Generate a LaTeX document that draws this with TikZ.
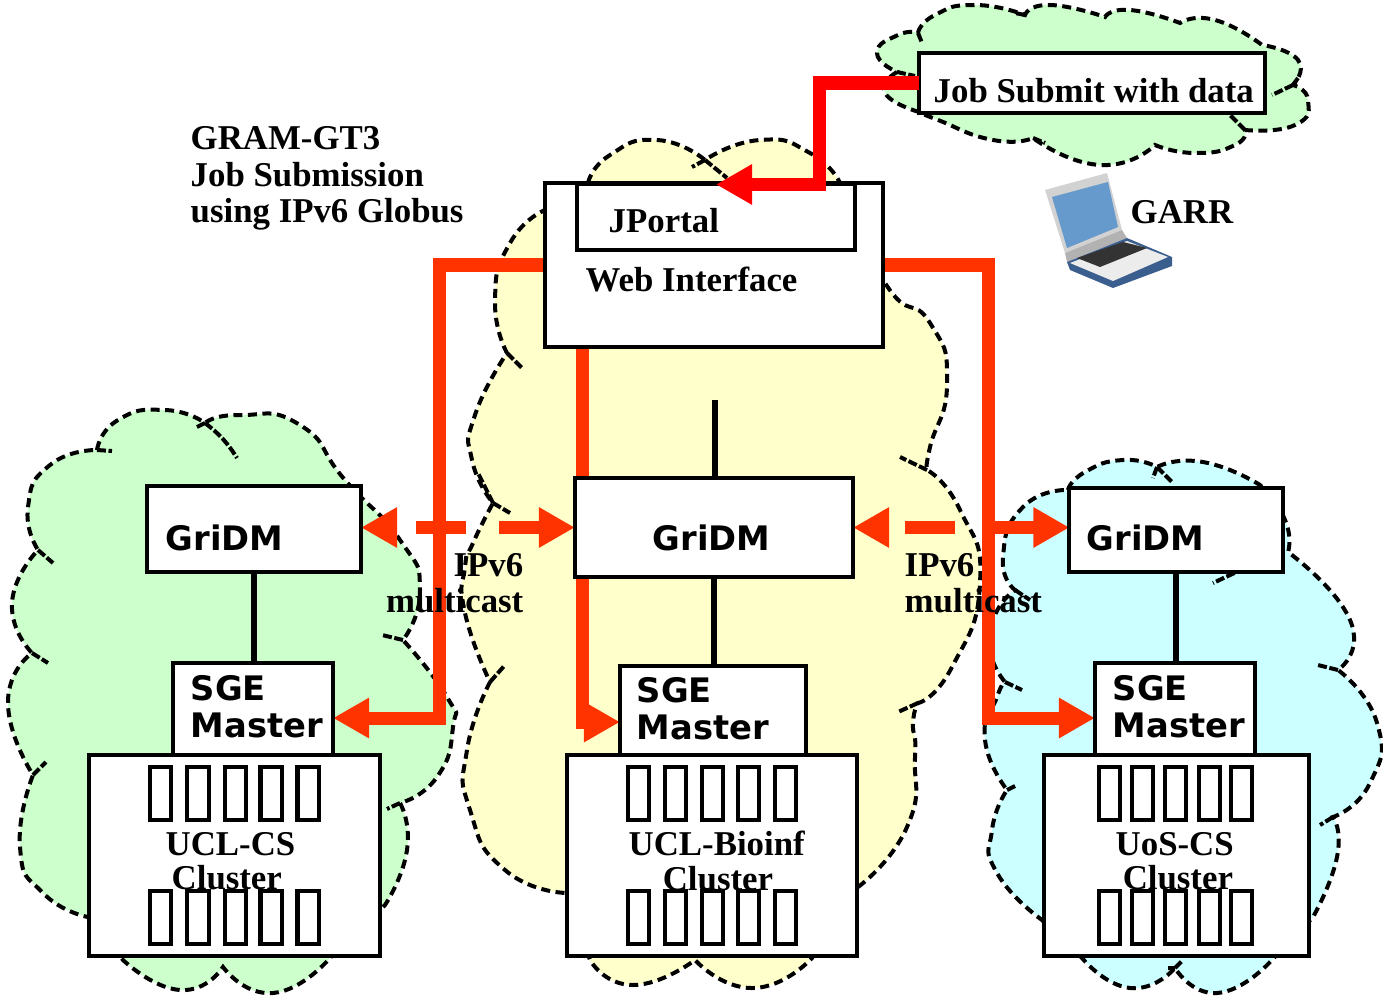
\documentclass[tikz,border=0pt]{standalone}
\usepackage{fontspec}
\setmainfont{Liberation Serif}
\setsansfont{DejaVu Sans}
\usepackage{tikz}
\usetikzlibrary{arrows.meta}
\pgfdeclarelayer{clouds}
\pgfdeclarelayer{links}
\pgfsetlayers{clouds,links,main}
\definecolor{cloudgreen}{HTML}{CCFFCC}
\definecolor{cloudyellow}{HTML}{FFFFCC}
\definecolor{cloudblue}{HTML}{CCFFFF}
\definecolor{linkorange}{HTML}{FF3300}
\definecolor{screenblue}{HTML}{6699CC}
\definecolor{laptopedge}{HTML}{3A5F8F}

\begin{document}
\begin{tikzpicture}[x=.01cm,y=-.01cm,>={Triangle[length=.36cm,width=.38cm]},
                    line join=miter]
  \tikzstyle{box}=[draw,fill=white,line width=.04cm,inner sep=0,outer sep=0]
  \tikzstyle{cell}=[draw,line width=.04cm,inner sep=0,minimum width=.21cm,minimum height=.53cm]
  \tikzstyle{cloudline}=[draw=black,line width=.04cm,dash pattern=on .09cm off .055cm]
  \tikzstyle{tail}=[black,line width=.04cm,dash pattern=on .09cm off .025cm]
  \tikzstyle{lobe}=[smooth,tension=1]
  \tikzstyle{link}=[->,linkorange,line width=.13cm]
  \tikzstyle{stem}=[black,line width=.06cm]
  \tikzstyle{serif}=[inner sep=0,font=\fontsize{9.9}{10.3}\selectfont\bfseries,align=left]
  \tikzstyle{plain}=[inner sep=0,font=\fontsize{9.9}{9.8}\selectfont\bfseries,align=left]
  \tikzstyle{sans}=[inner sep=0,font=\fontsize{9.6}{10.6}\selectfont\sffamily\bfseries,align=left]

  \useasboundingbox (0,0) rectangle (1383,997);

  % clouds
  \begin{pgfonlayer}{clouds}
  \path[cloudline,fill=cloudyellow] plot[lobe] coordinates {(588,183) (610,155) (657,140) (705,160)}
    -- plot[lobe] coordinates {(705,160) (760,140) (810,153) (840,183)}
    -- plot[lobe] coordinates {(840,183) (885,283) (930,323) (947,383) (930,447) (927,470)}
    -- plot[lobe] coordinates {(927,470) (960,510) (980,583) (952,667) (918,703)}
    -- plot[lobe] coordinates {(918,703) (913,723) (915,757) (907,827) (858,887)}
    -- (812,958) -- plot[lobe] coordinates {(812,958) (753,988) (695,960)}
    -- plot[lobe] coordinates {(695,960) (633,985) (590,960)}
    -- (567,893) -- plot[lobe] coordinates {(567,893) (505,870) (470,810) (467,750) (490,682)}
    -- plot[lobe] coordinates {(490,682) (465,613) (465,567) (473,543) (493,503)}
    -- plot[lobe] coordinates {(493,503) (472,460) (475,415) (507,353)}
    -- plot[lobe] coordinates {(507,353) (495,300) (510,243) (545,210)}
    -- cycle;
  \path[cloudline,fill=cloudgreen] plot[lobe] coordinates {(97,450) (118,420) (165,410) (205,423)}
    -- plot[lobe] coordinates {(205,423) (240,415) (300,425) (345,480) (400,540) (420,590) (403,640)}
    -- plot[lobe] coordinates {(403,640) (447,697) (453,727) (437,777) (400,803)}
    -- plot[lobe] coordinates {(400,803) (407,850) (385,905)}
    -- (330,958) -- plot[lobe] coordinates {(330,958) (273,993) (223,967)}
    -- plot[lobe] coordinates {(223,967) (180,990) (123,960)}
    -- (88,917) -- plot[lobe] coordinates {(88,917) (43,893) (20,847) (33,775)}
    -- plot[lobe] coordinates {(33,775) (8,703) (32,653)}
    -- plot[lobe] coordinates {(32,653) (12,603) (38,550)}
    -- plot[lobe] coordinates {(38,550) (28,507) (50,465) (97,450)}
    -- cycle;
  \path[cloudline,fill=cloudblue] plot[lobe] coordinates {(1068,490) (1085,472) (1123,460) (1157,467)}
    -- plot[lobe] coordinates {(1157,467) (1203,462) (1260,485)}
    -- plot[lobe] coordinates {(1260,485) (1285,520) (1288,552)}
    -- plot[lobe] coordinates {(1288,552) (1350,620) (1338,670)}
    -- plot[lobe] coordinates {(1338,670) (1377,723) (1370,783) (1333,817)}
    -- plot[lobe] coordinates {(1333,817) (1337,857) (1313,917)}
    -- (1270,962) -- plot[lobe] coordinates {(1270,962) (1217,993) (1175,968)}
    -- plot[lobe] coordinates {(1175,968) (1130,988) (1082,958)}
    -- (1042,920) -- plot[lobe] coordinates {(1042,920) (997,873) (992,830) (1007,790)}
    -- plot[lobe] coordinates {(1007,790) (985,740) (997,697) (1005,682)}
    -- plot[lobe] coordinates {(1005,682) (990,650) (995,615) (1015,590)}
    -- plot[lobe] coordinates {(1015,590) (1003,557) (1023,507) (1068,490)}
    -- cycle;
  \path[cloudline,fill=cloudgreen] plot[lobe] coordinates {(918,33) (935,15) (975,5) (1025,15)}
    -- plot[lobe] coordinates {(1025,15) (1050,5) (1105,17)}
    -- plot[lobe] coordinates {(1105,17) (1130,10) (1180,23)}
    -- plot[lobe] coordinates {(1180,23) (1215,20) (1262,45)}
    -- plot[lobe] coordinates {(1262,45) (1298,60) (1293,85)}
    -- plot[lobe] coordinates {(1293,85) (1308,100) (1295,125) (1245,130)}
    -- plot[lobe] coordinates {(1245,130) (1235,145) (1195,153) (1155,145)}
    -- plot[lobe] coordinates {(1155,145) (1100,165) (1033,138)}
    -- plot[lobe] coordinates {(1033,138) (993,140) (938,120) (919,112)}
    -- plot[lobe] coordinates {(919,112) (885,93) (897,72)}
    -- plot[lobe] coordinates {(897,72) (877,53) (898,35) (918,33)}
    -- cycle;
  % cloud tails
  \draw[tail] (205,423) to[bend left=10] (237,458) (205,423) -- (195,428)
    (97,450) -- (112,451) (38,550) -- (53,563) (32,653) -- (48,663) (33,775) -- (46,762)
    (403,640) -- (382,635) (400,803) -- (387,809)
    (705,160) -- (727,178) (705,160) -- (692,167) (507,353) -- (522,368)
    (493,503) -- (478,473) (493,503) -- (510,513) (490,682) -- (505,665)
    (918,703) -- (898,712) (927,470) -- (900,457)
    (1157,467) -- (1173,483) (1157,467) -- (1153,478) (1338,670) -- (1318,665)
    (1333,817) -- (1320,825) (1175,968) -- (1183,960) (1175,968) -- (1168,968)
    (1007,790) -- (1017,785) (1005,682) -- (1022,690) (1015,590) -- (1030,600)
    (1245,568) -- (1213,583)
    (918,33) -- (922,43) (897,72) -- (915,76) (1293,85) -- (1272,95) (1293,85) -- (1298,78)
    (1245,130) -- (1228,113) (1033,138) -- (1045,143) (1025,15) -- (1015,13);
  \end{pgfonlayer}

  % boxes
  \node[box,minimum width=3.38cm,minimum height=1.64cm] (web) at (714,265) {};
  \node[box,minimum width=2.77cm,minimum height=.65cm] (jportal) at (716,217) {};
  \node[box,minimum width=3.46cm,minimum height=.6cm] (job) at (1092,83) {};
  \node[box,minimum width=2.14cm,minimum height=.86cm] (gridmL) at (254,529) {};
  \node[box,minimum width=2.78cm,minimum height=.99cm] (gridmC) at (714,527.5) {};
  \node[box,minimum width=2.13cm,minimum height=.84cm] (gridmR) at (1176,530) {};
  \node[box,minimum width=1.6cm,minimum height=.92cm] (sgeL) at (253,709) {};
  \node[box,minimum width=1.86cm,minimum height=.89cm] (sgeC) at (713,710.5) {};
  \node[box,minimum width=1.6cm,minimum height=.92cm] (sgeR) at (1175,709) {};
  \node[box,minimum width=2.91cm,minimum height=2.01cm] (clusterL) at (234.5,855.5) {};
  \node[box,minimum width=2.9cm,minimum height=2.01cm] (clusterC) at (712,855.5) {};
  \node[box,minimum width=2.65cm,minimum height=2.01cm] (clusterR) at (1176.5,855.5) {};

  % nodes of the clusters
  \foreach \row/\ypos in {a/793.5,b/917} {
    \foreach \xpos [count=\i] in {160.5,198,235.5,271,308}
      \node[cell] (cellL\row\i) at (\xpos,\ypos) {};
    \foreach \xpos [count=\i] in {638.5,675.5,712.5,748.5,785.5}
      \node[cell] (cellC\row\i) at (\xpos,\ypos) {};
    \foreach \xpos [count=\i] in {1109,1142,1175.5,1209,1241.5}
      \node[cell] (cellR\row\i) at (\xpos,\ypos) {};
  }

  % links
  \coordinate (stubtop) at (715,400);
  \begin{pgfonlayer}{links}
  \draw[link] (web.west) -- ++(-105,0) |- ([yshift=-.09cm]sgeL.east);
  \draw[link] (web.east) -- ++(105,0) |- ([yshift=-.09cm]sgeR.west);
  \draw[link] ([xshift=-1.31cm]web.south) |- ([yshift=-.115cm]sgeC.west);
  \draw[link,<->,dash pattern=on .5cm off .33cm,dash phase=.62cm] (gridmL.east |- gridmC.west) -- (gridmC.west);
  \draw[link,<->,dash pattern=on .5cm off .3cm,dash phase=.62cm] (gridmC.east) -- (gridmC.east -| gridmR.west);
  \draw[stem] (stubtop) -- (stubtop |- gridmC.north);
  \draw[stem] (gridmL.south) -- (gridmL.south |- sgeL.north);
  \draw[stem] (gridmC.south) -- (gridmC.south |- sgeC.north);
  \draw[stem] (gridmR.south) -- (gridmR.south |- sgeR.north);
  \end{pgfonlayer}
  \draw[link,red] (job.west) -- ++(-99,0) |- (jportal.north);

  % laptop
  \fill[gray!35] (1045,190) -- (1107,173) -- (1122,230) -- (1065,253) -- cycle;
  \fill[screenblue] (1052,197) -- (1108,182) -- (1118,227) -- (1067,248) -- cycle;
  \fill[gray!60] (1065,253) -- (1122,230) -- (1127,238) -- (1067,262) -- cycle;
  \fill[laptopedge] (1067,262) -- (1127,238) -- (1172,257) -- (1172,266) -- (1113,288) -- (1070,270) -- cycle;
  \fill[gray!15] (1070,263) -- (1127,241) -- (1168,257) -- (1113,281) -- cycle;
  \fill[black!80] (1077,258) -- (1123,242) -- (1147,248) -- (1100,267) -- cycle;

  % labels
  \node[serif,anchor=west] (gram) at (190,178.5) {GRAM-GT3\\Job Submission\\using IPv6 Globus};
  \node[serif,anchor=base west] (jobtext) at (933,102.5) {Job Submit with data};
  \node[serif,anchor=base west] (garr) at (1130,223) {GARR};
  \node[serif,anchor=base west] (jportaltext) at (608,232) {JPortal};
  \node[serif,anchor=base west] (webtext) at (585,291) {Web Interface};
  \node[serif,anchor=east,align=right] (ipv6L) at (524,583) {IPv6\\multicast};
  \node[serif,anchor=west] (ipv6R) at (904,583) {IPv6\\multicast};
  \node[plain,anchor=west] (clusterLtext) at (165,861) {UCL-CS\\\hspace*{1.7pt}Cluster};
  \node[plain,anchor=west] (clusterCtext) at (628,861) {UCL-Bioinf\\\hspace*{9.7pt}Cluster};
  \node[plain,anchor=west] (clusterRtext) at (1115,861) {UoS-CS\\\hspace*{2pt}Cluster};
  \node[sans,anchor=base west] (gridmLtext) at (165,550) {GriDM};
  \node[sans,anchor=base west] (gridmCtext) at (652,550) {GriDM};
  \node[sans,anchor=base west] (gridmRtext) at (1086,550) {GriDM};
  \node[sans,anchor=west] (sgeLtext) at (190,707) {SGE\\Master};
  \node[sans,anchor=west] (sgeCtext) at (636,709) {SGE\\Master};
  \node[sans,anchor=west] (sgeRtext) at (1112,707) {SGE\\Master};
\end{tikzpicture}
\end{document}
